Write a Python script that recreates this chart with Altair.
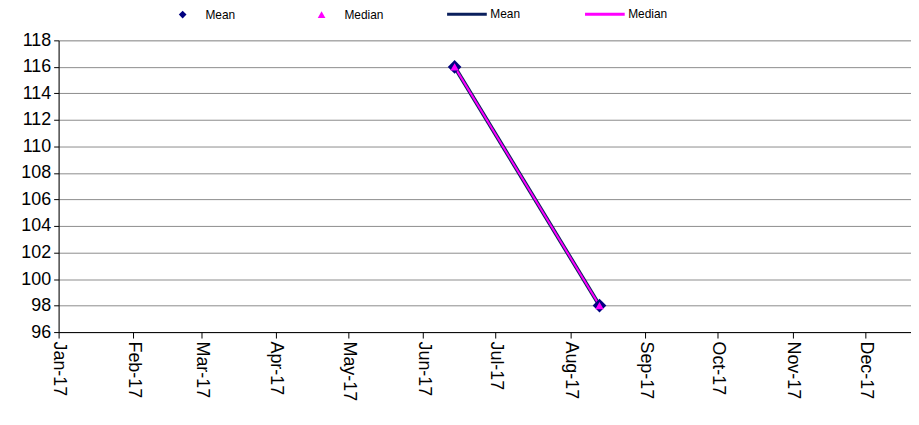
import altair as alt
import pandas as pd

dates = ["2017-06-14", "2017-08-13"]
mean_vals = [116, 98]
median_vals = [116, 98]
series_names = ["Mean", "Median"]

rows = []
for d, m, md in zip(dates, mean_vals, median_vals):
    rows.append({"date": d, "series": "Mean", "value": m})
    rows.append({"date": d, "series": "Median", "value": md})
df = pd.DataFrame(rows)

FONT = "Liberation Sans"
NAVY = "#000080"
NAVY_LINE = "#0a1f5c"
MAGENTA = "#ff00ff"

x_enc = alt.X(
    "date:T",
    scale=alt.Scale(domain=["2017-01-01T00:00:00", "2017-12-20T00:00:00"], nice=False),
    axis=alt.Axis(
        format="%b-%y", labelAngle=90, labelAlign="left", labelBaseline="middle",
        tickCount={"interval": "month", "step": 1}, grid=False,
        labelFontSize=18, labelFont=FONT, labelColor="black",
        domainColor="black", tickColor="black", tickSize=6, labelPadding=3,
        title=None,
    ),
)
y_enc = alt.Y(
    "value:Q",
    scale=alt.Scale(domain=[96, 118], nice=False, zero=False),
    axis=alt.Axis(
        values=list(range(96, 119, 2)), grid=True, gridColor="#8c8c8c",
        labelFontSize=18, labelFont=FONT, labelColor="black",
        domainColor="black", tickColor="black", tickSize=5, labelPadding=3,
        title=None,
    ),
)

line_color = alt.Color(
    "series:N",
    scale=alt.Scale(domain=series_names, range=[NAVY_LINE, MAGENTA]),
    legend=alt.Legend(
        orient="none", legendX=390, legendY=-48, direction="horizontal",
        title=None, symbolType="stroke", symbolSize=1600, symbolStrokeWidth=3,
        labelFontSize=12, labelFont=FONT, labelColor="black",
        columnPadding=58, labelOffset=2,
    ),
)

line_mean = alt.Chart(df).transform_filter(alt.datum.series == "Mean").mark_line(strokeWidth=4).encode(
    x=x_enc, y=y_enc, color=line_color,
)
line_median = alt.Chart(df).transform_filter(alt.datum.series == "Median").mark_line(strokeWidth=2).encode(
    x=x_enc, y=y_enc, color=line_color,
)
lines = alt.layer(line_mean, line_median)

pt_legend = alt.Legend(
    orient="none", legendX=119, legendY=-32, direction="horizontal",
    title=None, symbolSize=60,
    labelFontSize=12, labelFont=FONT, labelColor="black",
    columnPadding=80, labelOffset=17,
)

points = alt.Chart(df).mark_point(filled=True, opacity=1).encode(
    x=x_enc, y=y_enc,
    color=alt.Color("series:N", scale=alt.Scale(domain=series_names, range=[NAVY, MAGENTA]), legend=pt_legend),
    shape=alt.Shape("series:N", scale=alt.Scale(domain=series_names, range=["diamond", "triangle-up"]), legend=pt_legend),
    size=alt.condition(alt.datum.series == "Mean", alt.value(190), alt.value(70)),
    order=alt.Order("series:N"),
)

chart = (
    alt.layer(lines, points)
    .resolve_scale(color="independent", shape="independent")
    .properties(
        width=859, height=294,
        autosize=alt.AutoSizeParams(type="none"),
        padding={"left": 51, "top": 31, "right": 0, "bottom": 90},
    )
    .configure_view(stroke=None)
    .configure(background="white")
)

chart.save("out.html", embed_options={"renderer": "svg", "actions": False})
